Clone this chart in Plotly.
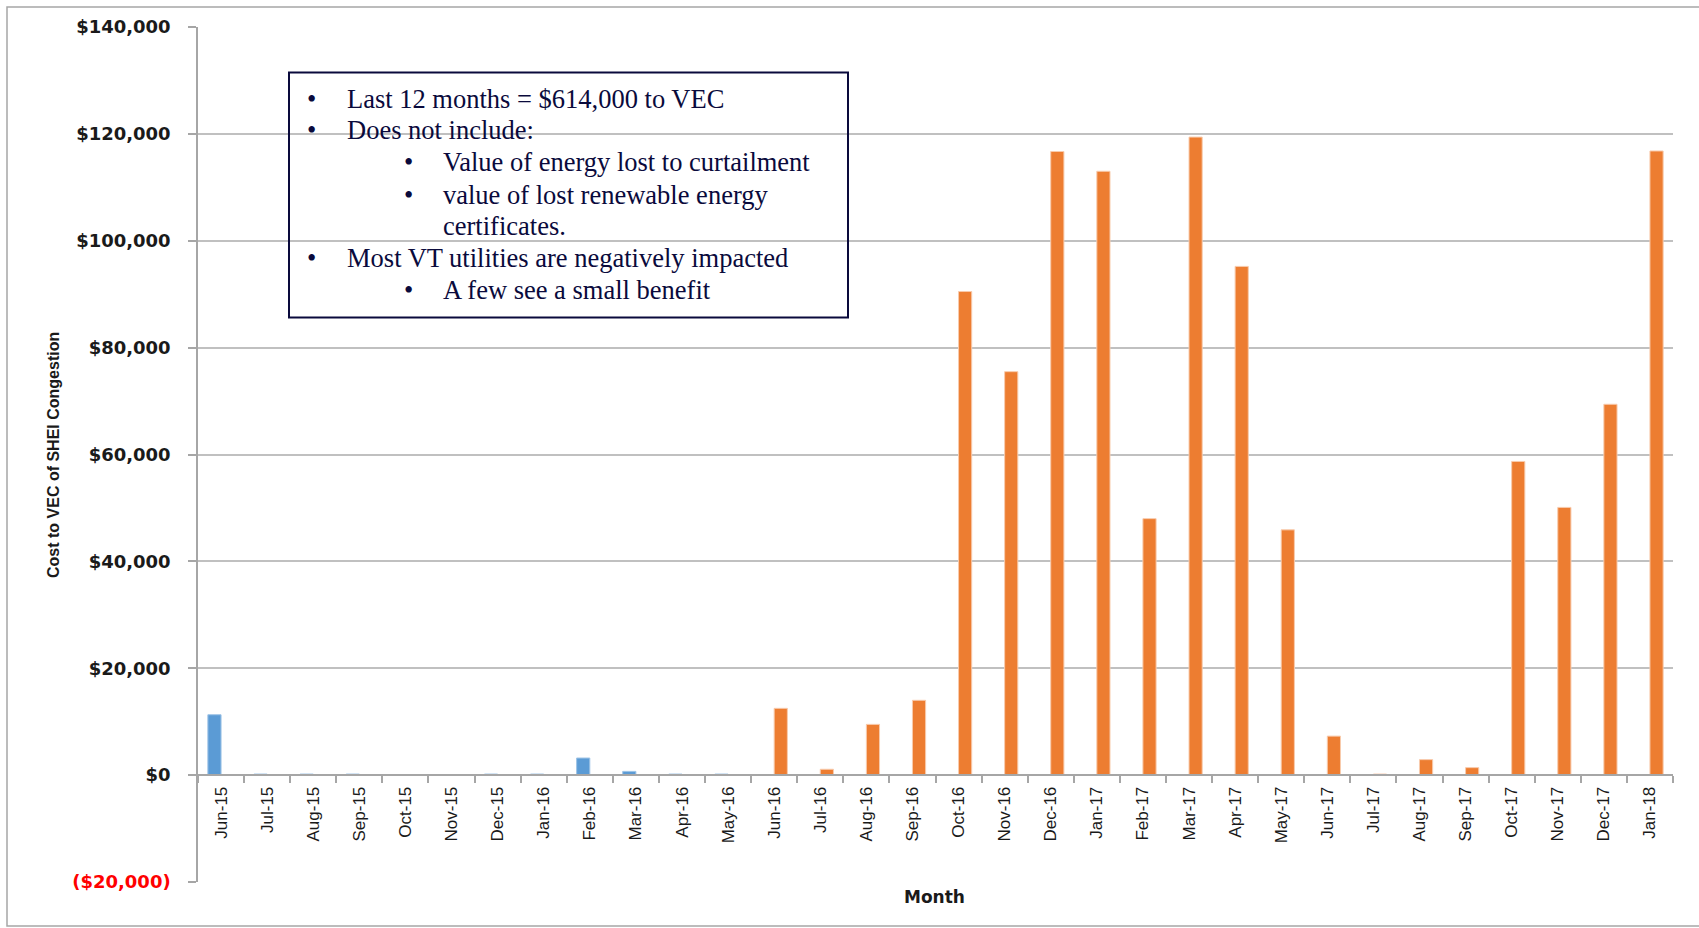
import plotly.graph_objects as go

months = ["Jun-15", "Jul-15", "Aug-15", "Sep-15", "Oct-15", "Nov-15", "Dec-15", "Jan-16",
          "Feb-16", "Mar-16", "Apr-16", "May-16", "Jun-16", "Jul-16", "Aug-16", "Sep-16",
          "Oct-16", "Nov-16", "Dec-16", "Jan-17", "Feb-17", "Mar-17", "Apr-17", "May-17",
          "Jun-17", "Jul-17", "Aug-17", "Sep-17", "Oct-17", "Nov-17", "Dec-17", "Jan-18"]

# Earlier period (blue) and later period (orange)
blue_values = [11300, 200, 200, 200, 0, 0, 200, 200, 3200, 700, 200, 200,
               None, None, None, None, None, None, None, None, None, None, None, None,
               None, None, None, None, None, None, None, None]
orange_values = [None, None, None, None, None, None, None, None, None, None, None, None,
                 12500, 1100, 9500, 14000, 90500, 75500, 116700, 113000, 48000, 119400,
                 95200, 45900, 7300, 200, 2900, 1400, 58700, 50100, 69400, 116800]

y_tickvals = [-20000, 0, 20000, 40000, 60000, 80000, 100000, 120000, 140000]
y_ticktext = ["($20,000)", "$0", "$20,000", "$40,000", "$60,000", "$80,000",
              "$100,000", "$120,000", "$140,000"]

box_lines = [
    (0, "Last 12 months = $614,000 to VEC"),
    (0, "Does not include:"),
    (1, "Value of energy lost to curtailment"),
    (1, "value of lost renewable energy"),
    (2, "certificates."),
    (0, "Most VT utilities are negatively impacted"),
    (1, "A few see a small benefit"),
]

WIDTH, HEIGHT = 1699, 928
L, R, T, B = 198, 1673, 27, 882
PW, PH = R - L, B - T


def px(x):
    return (x - L) / PW


def py(y):
    return (B - y) / PH


fig = go.Figure()
fig.add_trace(go.Bar(x=months, y=blue_values, name="blue",
                     marker=dict(color="#5B9BD5", line=dict(color="#9DC3E6", width=1))))
fig.add_trace(go.Bar(x=months, y=orange_values, name="orange",
                     marker=dict(color="#ED7D31", line=dict(color="#F8CBAD", width=1))))

ticktext_fmt = []
for v, t in zip(y_tickvals, y_ticktext):
    if v < 0:
        ticktext_fmt.append(f"<b><span style='color:#FF0000'>{t}</span></b>")
    else:
        ticktext_fmt.append(f"<b>{t}</b>")

zero_pos = (0 - (-20000)) / (140000 - (-20000))

fig.update_layout(
    width=WIDTH, height=HEIGHT,
    margin=dict(l=L, r=WIDTH - R, t=T, b=HEIGHT - B, autoexpand=False),
    paper_bgcolor="white", plot_bgcolor="white",
    barmode="group", bargap=0.428, bargroupgap=0,
    showlegend=False,
    xaxis=dict(
        type="category", anchor="free", position=zero_pos,
        showline=True, linecolor="#A6A6A6", linewidth=1.5,
        ticks="outside", tickson="boundaries", ticklen=7, tickcolor="#A6A6A6", tickwidth=1.5,
        tickangle=-90, showgrid=False, ticklabelstandoff=4,
        tickfont=dict(family="Liberation Sans, Arial", size=17, color="#1a1a1a"),
    ),
    yaxis=dict(
        range=[-20000, 140000], tickvals=y_tickvals, ticktext=ticktext_fmt,
        showline=True, linecolor="#A6A6A6", linewidth=1.5,
        ticks="outside", ticklen=8, tickcolor="#A6A6A6", tickwidth=1.5,
        showgrid=True, gridcolor="#C0C0C0", gridwidth=1.5, zeroline=False,
        ticklabelstandoff=14,
        tickfont=dict(family="DejaVu Sans", size=18, color="#1a1a1a"),
    ),
)

shapes = []
# outer chart border
shapes.append(dict(type="rect", xref="paper", yref="paper",
                   x0=px(7), x1=px(1710), y0=py(926), y1=py(7),
                   line=dict(color="#A6A6A6", width=1.5), fillcolor="rgba(0,0,0,0)", layer="below"))
# text box
shapes.append(dict(type="rect", xref="paper", yref="paper",
                   x0=px(289), x1=px(848), y0=py(317.5), y1=py(72.5),
                   line=dict(color="#0A0A3C", width=2), fillcolor="rgba(0,0,0,0)"))
fig.update_layout(shapes=shapes)

annotations = []
line_y = [98.6, 130, 162.5, 195, 226.5, 258, 290.4]
bullet_x = {0: 311, 1: 408.5}
text_x = {0: 344.5, 1: 441, 2: 441}
tfont = dict(family="Liberation Serif, Times New Roman", size=26.5, color="#0A0A3C")
for (lvl, txt), yy in zip(box_lines, line_y):
    if lvl in bullet_x:
        annotations.append(dict(xref="paper", yref="paper", x=px(bullet_x[lvl]), y=py(yy),
                                text="•", showarrow=False, xanchor="center", yanchor="middle",
                                font=tfont))
    annotations.append(dict(xref="paper", yref="paper", x=px(text_x[lvl]), y=py(yy),
                            text=txt, showarrow=False, xanchor="left", yanchor="middle",
                            font=tfont))

annotations.append(dict(xref="paper", yref="paper", x=px(54), y=py(455),
                        text="<b>Cost to VEC of SHEI Congestion</b>", textangle=-90,
                        showarrow=False, xanchor="center", yanchor="middle",
                        font=dict(family="Liberation Sans Narrow, Liberation Sans", size=16, color="#1a1a1a")))
annotations.append(dict(xref="paper", yref="paper", x=px(934), y=py(897),
                        text="<b>Month</b>", showarrow=False, xanchor="center", yanchor="middle",
                        font=dict(family="DejaVu Sans", size=17, color="#1a1a1a")))
fig.update_layout(annotations=annotations)

fig.write_html("out.html", config={"displayModeBar": False},
               post_script="document.body.style.margin='0';document.body.style.padding='0';")
